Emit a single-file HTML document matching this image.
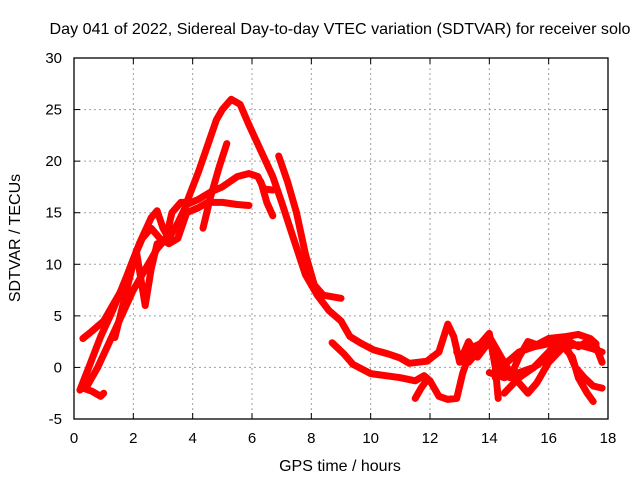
<!DOCTYPE html>
<html><head><meta charset="utf-8"><style>
body{margin:0;background:#fff}
svg{display:block;font-family:"Liberation Sans",sans-serif}
</style></head><body>
<svg id="chart" width="640" height="480">
<text x="340" y="34" text-anchor="middle" font-size="16" textLength="581" lengthAdjust="spacingAndGlyphs">Day 041 of 2022, Sidereal Day-to-day VTEC variation (SDTVAR) for receiver solo</text>
<text x="340" y="471" text-anchor="middle" font-size="16">GPS time / hours</text>
<text x="0" y="0" transform="translate(20,238) rotate(-90)" text-anchor="middle" font-size="16">SDTVAR / TECUs</text>
<g id="grid"></g><g id="ticks"></g><g id="series"></g>
<rect x="74" y="58" width="534" height="361" fill="none" stroke="#000" stroke-width="1.3"/>
</svg>
<script>
const xTicks=[0,2,4,6,8,10,12,14,16,18];
const yTicks=[-5,0,5,10,15,20,25,30];
const trace1X=[0.3,0.6,1,1.3,1.6,2,2.3,2.6,2.9,3.2,3.5,3.8,4.2,4.5,5,5.5,5.9];
const trace1Y=[2.8,3.5,4.5,6,7.5,10.5,12.5,13.5,12.5,12,12.5,15,15.5,16,16,15.8,15.7];
const trace2X=[0.2,0.5,0.9,1.3,1.8,2.2,2.6,2.8,3,3.2,3.5,3.8,4.2,4.6,5,5.5,5.9,6.2,6.4,6.7];
const trace2Y=[-2.2,0,3,5.5,9,12,14.5,15.2,13.5,12.5,14,15.8,16.3,17,17.5,18.5,18.8,18.5,17.3,17.2];
const trace3X=[0.4,0.8,1.2,1.6,2,2.4,2.8,3.1,3.3,3.6,3.8,4.2,4.5,4.8,5,5.3,5.6,5.9,6.3,6.7,7,7.4,7.8,8.2,8.6,9,9.3,9.7,10.1,10.6,11,11.3,11.9,12.3,12.6,12.8,13,13.3,13.6,14,14.3,14.7,15,15.3,15.6,16,16.3,16.6,17,17.4,17.6];
const trace3Y=[-2,0,2.5,5,7.5,9.5,11.5,12.5,15,16,16,19,21.5,24,25,26,25.5,23.5,21,18.5,16,12.5,9,7,5.5,4.5,3,2.3,1.7,1.3,0.9,0.4,0.6,1.5,4.2,3,0.5,2.5,1,2.5,0.5,-1,1,2.5,2.2,2.8,2.9,3,3.2,2.8,2.3];
const trace4X=[1.38,1.6,1.9,2.1,2.4,2.6,2.8];
const trace4Y=[2.9,5.5,9,11.3,6,9.5,12];
const trace5X=[4.35,4.6,4.9,5.15];
const trace5Y=[13.5,16.5,19.5,21.7];
const trace6X=[6.9,7.2,7.5,7.8,8.1,8.4,9];
const trace6Y=[20.5,18,15,11,8,7,6.7];
const trace7X=[6.3,6.5,6.7];
const trace7Y=[18,16,14.7];
const trace8X=[8.7,9.1,9.4,10,11,11.5,11.8,12,12.3,12.6,12.9,13.1,13.4,13.7,14,14.2,14.3];
const trace8Y=[2.4,1.3,0.3,-0.6,-1,-1.3,-0.8,-1.3,-2.8,-3.1,-3,-0.6,1.9,2.3,3.3,0,-3];
const trace9X=[12.9,13.3,13.6,14,14.3,14.6,15,15.3,15.6,16,16.5,17,17.5,17.8];
const trace9Y=[1.5,0.5,1.5,3,1.5,0,-1.5,-2.5,-1.5,0.5,2,2.2,1.8,1.5];
const trace10X=[14.2,14.6,15,15.5,16,16.3,16.6,17,17.3,17.6,17.8];
const trace10Y=[-1,0.5,1.5,2,2.3,2.8,2.7,2,2.5,2,0.5];
const trace11X=[14,14.5,15,15.5,16,16.3,16.6,16.9,17.2,17.5,17.8];
const trace11Y=[-0.5,-1,-0.5,0,1.5,2.5,2,0,-1,-1.8,-2];
const trace12X=[14.5,15,15.5,16,16.5,16.8,17,17.3,17.5];
const trace12Y=[-2.5,-1,0,1,2,1,-1,-2.5,-3.3];
const trace13X=[0.3,0.6,0.9,1];
const trace13Y=[-2,-2.3,-2.8,-2.5];
const trace14X=[11.5,11.7,11.9];
const trace14Y=[-3,-2,-1.2];
const seriesX=[trace1X,trace2X,trace3X,trace4X,trace5X,trace6X,trace7X,trace8X,trace9X,trace10X,trace11X,trace12X,trace13X,trace14X];
const seriesY=[trace1Y,trace2Y,trace3Y,trace4Y,trace5Y,trace6Y,trace7Y,trace8Y,trace9Y,trace10Y,trace11Y,trace12Y,trace13Y,trace14Y];
const NS='http://www.w3.org/2000/svg';
const X0=74,X1=608,Y0=419,Y1=58;
function sx(v){return X0+(v-0)/(18-0)*(X1-X0);}
function sy(v){return Y0-(v+5)/(35)*(Y0-Y1);}
const grid=document.getElementById('grid'),ticks=document.getElementById('ticks'),ser=document.getElementById('series');
function mk(tag,attrs,parent){const e=document.createElementNS(NS,tag);for(const k in attrs)e.setAttribute(k,attrs[k]);parent.appendChild(e);return e;}
xTicks.forEach(t=>{
  const x=sx(t);
  if(t>0&&t<18){const g=mk('line',{x1:x,x2:x,y1:Y1,y2:Y0,stroke:'#a0a0a0','stroke-dasharray':'2,3'},grid);
  
  }
  const l=mk('text',{x:x,y:443,'text-anchor':'middle','font-size':'15'},ticks);
  l.textContent=t;
  
  
  mk('line',{x1:x,x2:x,y1:Y0,y2:Y0-6,stroke:'#000'},ticks);
  mk('line',{x1:x,x2:x,y1:Y1,y2:Y1+6,stroke:'#000'},ticks);
});
yTicks.forEach(t=>{
  const y=sy(t);
  if(t>-5&&t<30){const g=mk('line',{x1:X0,x2:X1,y1:y,y2:y,stroke:'#a0a0a0','stroke-dasharray':'2,3'},grid);
  
  }
  const l=mk('text',{x:62,y:y+5,'text-anchor':'end','font-size':'15'},ticks);
  l.textContent=t;
  
  
  mk('line',{x1:X0,x2:X0+6,y1:y,y2:y,stroke:'#000'},ticks);
  mk('line',{x1:X1,x2:X1-6,y1:y,y2:y,stroke:'#000'},ticks);
});
seriesX.forEach((xs,i)=>{
  const ys=seriesY[i];
  const pts=xs.map((v,j)=>sx(v).toFixed(1)+','+sy(ys[j]).toFixed(1)).join(' ');
  const p=mk('polyline',{points:pts,fill:'none',stroke:'#ff0000','stroke-width':'7','stroke-linejoin':'round','stroke-linecap':'round'},ser);
  
  
});
</script>
</body></html>
